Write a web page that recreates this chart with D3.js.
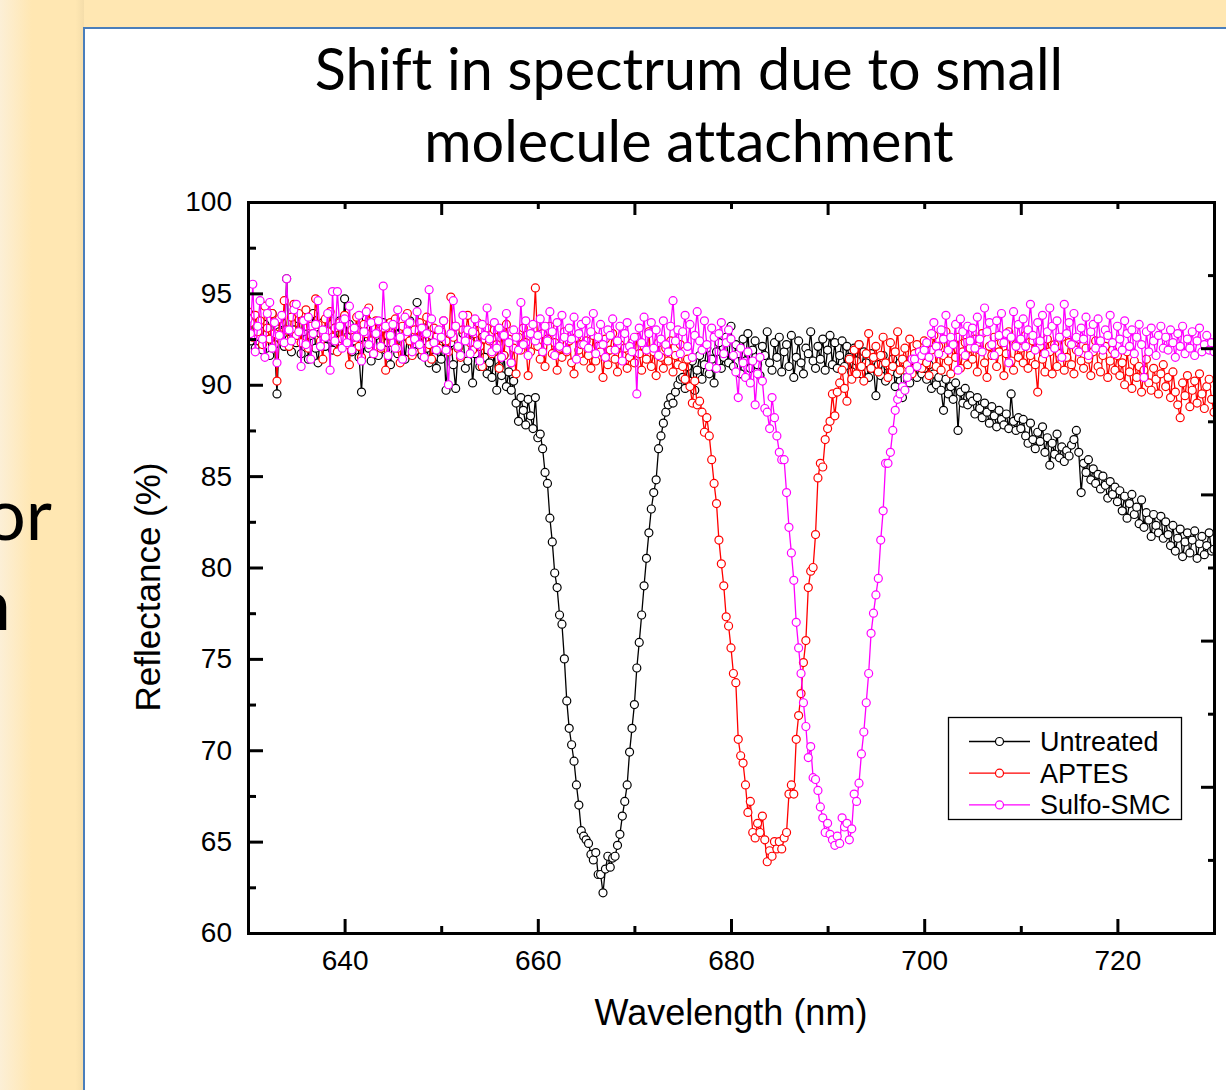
<!DOCTYPE html>
<html><head><meta charset="utf-8">
<script src="https://cdn.jsdelivr.net/npm/d3@7"></script>
<style>
html,body{margin:0;padding:0;background:#FFE7B2;}
svg{display:block;}
text{font-variant-ligatures:none;font-feature-settings:"liga" 0,"clig" 0;}
</style></head><body>
<svg id="c" width="1226" height="1090"></svg>
<script>
// Sampling grid of the spectra (nm)
const wlStart = 630, wlStep = 0.25;

// Reflectance (%) — Untreated
const untreated = [
93.1,92.4,93.8,92.0,93.5,92.6,91.9,93.3,92.8,91.6,93.9,92.2,89.5,92.9,93.4,92.1,95.8,92.5,91.8,93.0,
92.3,93.6,91.7,92.9,93.2,91.4,92.7,93.9,92.0,91.2,92.8,93.4,92.1,93.7,92.5,91.9,93.1,92.4,93.5,92.2,
94.7,92.6,93.3,91.8,92.4,93.0,91.5,89.6,92.2,93.6,92.0,91.3,93.1,92.7,91.6,92.9,93.4,91.9,92.3,91.1,
92.5,93.2,91.7,92.8,93.0,91.4,92.6,93.5,92.1,91.8,94.5,92.3,91.6,93.1,92.0,91.2,92.7,91.5,90.9,92.2,
91.4,92.5,89.7,91.9,92.3,91.1,89.8,92.0,91.6,92.8,90.9,91.3,92.4,90.1,91.7,92.1,91.0,92.6,91.5,90.6,
91.2,90.4,91.8,89.7,91.0,90.5,91.6,89.9,90.7,89.7,90.2,89.0,88.0,89.3,88.6,87.8,89.2,88.3,87.6,89.3,
87.1,87.3,86.5,85.2,84.6,82.7,81.4,79.7,78.9,77.4,76.9,75.0,72.7,71.2,70.3,69.4,68.1,67.0,65.6,65.3,
65.1,64.9,64.3,64.0,64.4,63.2,63.2,62.2,63.5,64.2,63.6,64.1,64.2,64.8,65.4,66.4,67.2,68.1,69.9,71.2,
72.5,74.5,75.9,77.4,79.0,80.5,81.9,83.2,84.1,84.8,86.5,87.2,87.9,88.5,88.9,89.3,89.0,89.6,90.0,90.3,
90.4,89.8,91.0,90.2,91.3,89.7,90.8,91.6,90.3,91.1,92.0,90.6,91.4,90.1,91.8,92.3,90.9,91.5,92.6,91.2,
93.2,91.0,92.2,91.7,90.6,92.5,91.3,92.8,90.9,91.9,92.4,91.1,90.5,92.1,91.6,92.9,91.2,90.8,92.3,91.5,
92.6,90.7,91.8,92.2,91.0,92.7,90.4,91.5,92.4,91.2,90.6,92.0,91.7,92.9,91.3,90.9,92.1,91.4,92.5,90.8,
91.9,92.7,91.1,92.3,90.9,91.6,92.4,91.0,92.1,91.5,90.7,92.0,91.3,92.2,90.6,91.8,91.2,90.4,91.7,90.9,
89.4,91.1,90.5,91.6,90.2,91.0,90.7,91.4,89.9,90.6,91.2,89.3,90.8,91.3,90.1,90.9,91.5,90.4,91.0,90.6,
90.9,90.3,91.1,89.8,90.6,90.0,90.4,89.7,88.6,90.3,89.5,89.9,89.2,90.1,87.5,89.6,89.0,89.8,88.9,89.4,
89.1,88.4,89.3,88.7,88.2,89.0,88.5,87.9,88.8,88.3,87.7,88.6,88.1,87.8,88.4,87.6,89.5,88.0,87.5,88.2,
87.6,88.1,87.2,86.8,87.9,87.0,86.5,87.4,86.9,87.7,86.3,87.1,85.6,86.8,86.2,87.3,86.0,86.6,85.8,86.4,
86.1,86.7,87.0,87.5,86.3,84.1,85.7,85.2,85.9,84.8,85.4,84.6,85.1,84.3,85.0,84.5,83.8,84.7,84.0,84.4,
83.6,84.2,83.1,83.9,82.7,83.5,84.0,82.9,83.3,82.4,83.7,82.2,83.0,82.6,81.7,82.9,82.3,81.9,82.8,81.6,
82.5,81.8,81.2,82.3,80.9,81.6,82.1,80.6,81.4,81.9,80.8,81.5,82.0,80.5,81.3,81.7,80.7,81.2,81.9,80.9,
81.0];

// Reflectance (%) — APTES
const aptes = [
94.0,93.4,92.6,93.8,92.9,93.5,92.2,94.3,93.1,92.5,93.9,92.8,90.2,93.6,92.4,94.6,93.0,92.1,93.7,94.4,
92.7,93.9,92.3,93.5,94.1,92.0,93.2,92.8,94.7,93.3,92.4,91.4,93.6,92.9,94.0,92.6,93.1,91.8,93.4,92.5,
93.8,92.2,91.1,93.0,92.6,93.7,92.1,91.5,93.3,92.8,94.2,92.4,91.7,93.5,92.9,92.0,93.1,90.8,92.7,93.4,
92.3,93.6,92.0,91.2,93.2,92.7,93.9,92.4,91.6,93.0,92.5,93.4,91.9,92.8,93.7,92.2,91.4,93.1,92.6,92.0,
92.9,93.5,92.4,91.8,94.8,92.6,93.2,92.0,91.5,93.0,92.7,93.8,92.3,91.9,92.8,93.4,92.1,91.0,92.5,93.1,
92.4,91.7,93.0,92.2,90.9,92.8,91.6,93.3,92.5,91.2,92.0,90.6,92.6,91.9,93.1,92.3,90.5,91.8,92.7,95.3,
92.1,91.4,92.8,91.0,92.5,93.2,91.7,92.3,90.8,92.0,91.5,92.9,91.8,92.4,91.2,90.6,92.6,91.9,92.2,91.3,
92.4,91.6,90.9,92.7,91.3,92.1,91.8,90.4,92.5,91.1,91.9,92.8,91.4,90.7,92.2,91.6,92.0,90.9,91.5,92.3,
91.2,92.6,91.7,90.8,92.1,91.4,92.9,91.0,91.8,90.5,92.3,91.5,90.9,92.0,91.3,92.4,90.7,91.6,91.1,92.2,
91.0,90.3,91.4,89.9,89.0,90.2,88.9,89.1,88.5,87.4,88.2,87.2,85.9,84.6,83.5,81.5,80.2,79.0,77.3,76.8,
75.6,74.2,73.7,70.6,69.7,69.3,68.1,66.6,67.2,65.5,65.2,66.0,65.5,66.4,65.1,63.9,64.5,64.2,65.0,64.6,
65.0,64.6,65.2,65.5,67.6,68.1,67.6,70.6,71.9,73.1,74.8,76.0,78.9,79.8,80.0,81.8,84.9,85.7,85.5,87.0,
87.6,88.0,89.5,88.3,89.6,90.1,90.8,89.8,89.1,91.4,90.3,91.9,90.6,92.2,91.0,90.2,91.7,92.8,90.9,91.5,
92.1,90.7,91.6,92.6,91.2,90.4,92.3,91.0,91.8,92.9,90.8,91.4,92.0,91.1,92.5,90.6,91.7,92.2,91.3,90.9,
92.4,91.2,90.5,91.9,92.7,91.0,92.1,90.8,91.6,92.9,91.3,90.6,92.2,91.5,92.6,90.9,91.8,92.3,91.1,92.0,
91.4,92.5,90.7,91.9,92.8,91.2,90.4,92.1,91.6,92.6,91.0,91.8,92.3,90.5,91.7,92.9,91.3,90.8,92.2,91.5,
92.0,91.2,92.7,90.9,91.6,92.4,91.1,89.6,92.1,91.4,90.7,92.5,91.8,90.6,92.2,91.0,91.7,92.6,90.8,91.5,
92.3,91.1,90.6,91.9,92.5,91.3,90.9,92.0,91.4,90.5,91.8,92.4,91.0,90.7,91.6,92.1,90.4,91.3,91.9,90.8,
91.6,90.5,91.2,90.0,91.8,90.7,89.8,91.3,90.4,91.0,89.6,90.8,91.4,90.1,89.7,90.9,90.3,89.5,90.6,91.1,
89.9,90.4,89.3,90.7,89.6,88.9,88.2,90.1,89.4,90.5,88.8,89.7,90.2,89.0,90.6,89.5,88.7,89.9,90.3,89.2,
88.5];

// Reflectance (%) — Sulfo-SMC
const sulfo = [
93.6,92.8,95.5,91.8,93.2,94.6,92.5,91.5,93.9,94.5,92.0,93.4,91.2,92.7,93.8,92.3,95.8,93.0,92.4,94.1,
94.4,92.9,91.0,93.5,92.2,93.7,91.4,92.8,93.3,94.6,92.1,93.0,92.6,93.9,90.8,95.1,92.4,95.1,93.2,92.0,
93.6,92.3,94.3,91.9,93.1,92.6,93.8,91.3,92.9,94.0,92.2,93.4,91.7,92.8,93.5,92.1,95.4,93.2,91.6,92.7,
93.3,92.0,94.1,92.6,91.4,93.7,92.9,93.4,91.8,92.5,94.0,92.2,93.1,91.5,92.8,95.2,93.6,92.3,91.9,93.0,
92.6,93.5,91.9,90.0,92.8,94.6,93.2,92.1,91.6,93.8,92.4,93.0,91.7,92.9,93.6,92.2,91.3,93.3,92.7,94.2,
92.5,91.8,93.4,92.0,93.1,91.5,92.7,93.9,92.3,91.2,93.0,92.6,91.9,94.5,92.2,93.5,91.6,92.8,93.3,92.4,
92.7,93.6,91.8,93.2,92.4,94.0,92.9,91.6,93.4,92.1,93.8,92.6,91.9,93.1,92.5,93.7,91.4,92.8,93.3,92.2,
93.5,92.0,92.9,93.9,91.7,92.6,93.3,92.2,91.5,93.0,92.7,93.6,91.9,92.4,93.2,91.3,92.8,93.4,92.1,91.8,
92.6,89.5,93.1,92.3,93.7,91.9,92.8,93.4,92.0,93.0,91.6,92.5,93.5,92.2,91.8,93.2,94.6,92.4,93.0,91.7,
92.9,93.8,92.1,93.3,91.5,92.7,94.0,92.4,91.9,93.5,92.2,91.0,93.1,92.6,90.9,92.8,93.4,91.7,92.3,93.0,
92.5,91.6,90.7,89.3,92.0,91.2,90.4,91.8,90.1,91.3,88.9,90.6,91.5,90.2,88.7,88.5,87.6,89.3,88.2,87.2,
86.3,85.9,85.9,84.1,82.2,80.8,79.3,77.0,75.6,74.2,72.6,71.3,69.6,70.2,68.5,68.4,67.8,66.9,66.3,65.5,
66.0,65.4,65.1,64.8,65.3,64.9,66.3,65.8,66.0,65.1,65.7,67.6,67.2,68.2,69.8,71.0,72.6,74.2,76.4,77.5,
78.5,79.4,81.5,83.1,85.7,85.7,86.3,87.5,88.6,89.2,89.5,89.9,89.7,90.4,90.8,91.4,91.4,91.0,91.8,91.6,
91.9,92.3,91.5,92.8,93.4,92.1,91.7,93.0,92.5,93.8,91.9,92.6,92.2,93.3,90.8,93.6,92.9,91.6,93.2,92.4,
93.1,92.0,93.7,92.5,91.8,94.2,92.9,93.4,92.2,91.6,93.5,92.7,93.9,92.3,92.8,91.2,92.6,94.0,92.1,93.3,
92.5,93.6,92.1,93.0,94.4,92.7,91.9,93.4,92.4,93.8,91.7,92.9,94.2,93.2,92.0,93.5,92.6,91.5,94.4,92.8,
93.4,92.2,93.9,92.6,91.8,93.1,92.5,93.7,91.6,92.9,93.3,92.0,93.6,92.4,91.9,93.0,92.7,93.8,92.3,91.7,
93.2,92.5,91.9,93.5,92.8,92.1,93.0,91.7,92.6,93.3,92.2,90.4,92.9,91.8,93.1,92.4,91.6,92.7,93.2,92.0,
92.6,91.9,93.0,92.3,91.5,92.8,92.1,93.2,91.7,92.5,92.0,92.9,91.6,92.4,93.1,91.8,92.2,92.7,91.9,92.3,
91.8];

const seriesNames = ["Untreated", "APTES", "Sulfo-SMC"];
const seriesColors = ["#000000", "#FF0000", "#FF00FF"];
const seriesValues = [untreated, aptes, sulfo];

const xDomain = [630, 730];
const yDomain = [60, 100];
const xTickValues = [640, 660, 680, 700, 720];
const xMinorValues = [650, 670, 690, 710];
const yTickValues = [60, 65, 70, 75, 80, 85, 90, 95, 100];
const yMinorValues = [62.5, 67.5, 72.5, 77.5, 82.5, 87.5, 92.5, 97.5];
const topLongValues = [650, 670, 690, 710];
const topShortValues = [640, 660, 680, 700, 720];
const rightLongValues = [60, 68, 76, 84, 92, 100];
const rightShortValues = [64, 72, 80, 88, 96];
const titleLines = ["Shift in spectrum due to small", "molecule attachment"];
const xTitle = "Wavelength (nm)";
const yTitle = "Reflectance (%)";
const slideWords = ["or", "n"];

// ---------- drawing ----------
const W = 1226, H = 1090;
const svg = d3.select("#c");
const plot = {left: 248, right: 1214, top: 202, bottom: 933};
const AX = "'Liberation Sans', Arial, Helvetica, sans-serif";
const TITLEF = "Lato, 'Open Sans', sans-serif";

const defs = svg.append("defs");
const g1 = defs.append("linearGradient").attr("id", "bgL")
  .attr("gradientUnits", "userSpaceOnUse").attr("x1", 0).attr("x2", 84).attr("y1", 0).attr("y2", 0);
g1.append("stop").attr("offset", 0).attr("stop-color", "#FCEFD6");
g1.append("stop").attr("offset", 0.38).attr("stop-color", "#FFE7B2");
g1.append("stop").attr("offset", 0.9).attr("stop-color", "#FFE7B2");
g1.append("stop").attr("offset", 1).attr("stop-color", "#F4DDAA");
defs.append("clipPath").attr("id", "plotClip").append("rect")
  .attr("x", plot.left).attr("y", plot.top)
  .attr("width", plot.right - plot.left).attr("height", plot.bottom - plot.top);

svg.append("rect").attr("width", W).attr("height", H).attr("fill", "#FFE7B2");
svg.append("rect").attr("width", 84).attr("height", H).attr("fill", "url(#bgL)");

// slide text fragments on the left (cut by the picture edge, as in the reference)
svg.append("text").attr("x", 52).attr("y", 540).attr("text-anchor", "end")
  .attr("font-family", TITLEF).attr("font-size", 72).attr("fill", "#000").text(slideWords[0]);
svg.append("text").attr("x", 11).attr("y", 630).attr("text-anchor", "end")
  .attr("font-family", TITLEF).attr("font-size", 72).attr("fill", "#000").text(slideWords[1]);

// white panel
svg.append("rect").attr("x", 84).attr("y", 28).attr("width", W).attr("height", H)
  .attr("fill", "#fff").attr("stroke", "#4A7EBB").attr("stroke-width", 2);

// title
titleLines.forEach((t, i) => {
  svg.append("text").attr("x", 689).attr("y", 90 + i * 72).attr("text-anchor", "middle")
    .attr("font-family", TITLEF).attr("font-size", 57.5).attr("fill", "#000").text(t);
});

const x = d3.scaleLinear().domain(xDomain).range([plot.left, plot.right]);
const y = d3.scaleLinear().domain(yDomain).range([plot.bottom, plot.top]);

// series
const data = seriesValues.map(vals => vals.map((v, i) => ({w: wlStart + i * wlStep, v})));
const line = d3.line().x(d => x(d.w)).y(d => y(d.v));
const gData = svg.append("g").attr("clip-path", "url(#plotClip)");
data.forEach((pts, k) => {
  const gs = gData.append("g");
  gs.append("path").datum(pts).attr("d", line).attr("fill", "none")
    .attr("stroke", seriesColors[k]).attr("stroke-width", 1.3);
  gs.selectAll("circle").data(pts).join("circle")
    .attr("cx", d => x(d.w)).attr("cy", d => y(d.v)).attr("r", 4)
    .attr("fill", "#fff").attr("stroke", seriesColors[k]).attr("stroke-width", 1.2);
});

// axes
function styleAxis(g, showLabels) {
  g.attr("font-family", AX).attr("font-size", 28);
  g.selectAll(".domain").attr("stroke", "#000").attr("stroke-width", 3).attr("stroke-linecap", "square");
  g.selectAll(".tick line").attr("stroke", "#000").attr("stroke-width", 3);
  g.selectAll(".tick text").attr("fill", "#000");
  if (!showLabels) g.selectAll(".tick text").remove();
}
const gx = svg.append("g").attr("transform", `translate(0,${plot.bottom})`)
  .call(d3.axisBottom(x).tickValues(xTickValues).tickSizeInner(-14).tickSizeOuter(0).tickPadding(17).tickFormat(d3.format("d")));
styleAxis(gx, true);
const gxm = svg.append("g").attr("transform", `translate(0,${plot.bottom})`)
  .call(d3.axisBottom(x).tickValues(xMinorValues).tickSizeInner(-7).tickSizeOuter(0).tickFormat(""));
styleAxis(gxm, false); gxm.select(".domain").remove();

const gy = svg.append("g").attr("transform", `translate(${plot.left},0)`)
  .call(d3.axisLeft(y).tickValues(yTickValues).tickSizeInner(-15).tickSizeOuter(0).tickPadding(16).tickFormat(d3.format("d")));
styleAxis(gy, true);
const gym = svg.append("g").attr("transform", `translate(${plot.left},0)`)
  .call(d3.axisLeft(y).tickValues(yMinorValues).tickSizeInner(-8).tickSizeOuter(0).tickFormat(""));
styleAxis(gym, false); gym.select(".domain").remove();

const gt = svg.append("g").attr("transform", `translate(0,${plot.top})`)
  .call(d3.axisTop(x).tickValues(topLongValues).tickSizeInner(-13).tickSizeOuter(0).tickFormat(""));
styleAxis(gt, false);
const gts = svg.append("g").attr("transform", `translate(0,${plot.top})`)
  .call(d3.axisTop(x).tickValues(topShortValues).tickSizeInner(-7).tickSizeOuter(0).tickFormat(""));
styleAxis(gts, false); gts.select(".domain").remove();

const gr = svg.append("g").attr("transform", `translate(${plot.right},0)`)
  .call(d3.axisRight(y).tickValues(rightLongValues).tickSizeInner(-13).tickSizeOuter(0).tickFormat(""));
styleAxis(gr, false);
const grs = svg.append("g").attr("transform", `translate(${plot.right},0)`)
  .call(d3.axisRight(y).tickValues(rightShortValues).tickSizeInner(-6).tickSizeOuter(0).tickFormat(""));
styleAxis(grs, false); grs.select(".domain").remove();

// axis titles
svg.append("text").attr("x", 731).attr("y", 1025).attr("text-anchor", "middle")
  .attr("font-family", AX).attr("font-size", 36).attr("fill", "#000").text(xTitle);
svg.append("text").attr("transform", "translate(160,587) rotate(-90)").attr("text-anchor", "middle")
  .attr("font-family", AX).attr("font-size", 35).attr("fill", "#000").text(yTitle);

// legend
const lg = svg.append("g");
lg.append("rect").attr("x", 948.5).attr("y", 717.5).attr("width", 233).attr("height", 102)
  .attr("fill", "#fff").attr("stroke", "#000").attr("stroke-width", 1.3);
seriesNames.forEach((n, k) => {
  const yy = 741.5 + k * 31.7;
  lg.append("line").attr("x1", 969).attr("x2", 1030).attr("y1", yy).attr("y2", yy)
    .attr("stroke", seriesColors[k]).attr("stroke-width", 1.3);
  lg.append("circle").attr("cx", 999.5).attr("cy", yy).attr("r", 4)
    .attr("fill", "#fff").attr("stroke", seriesColors[k]).attr("stroke-width", 1.2);
  lg.append("text").attr("x", 1040).attr("y", yy + 9.5).attr("font-family", AX)
    .attr("font-size", 27).attr("fill", "#000").text(n);
});
</script>
</body></html>
